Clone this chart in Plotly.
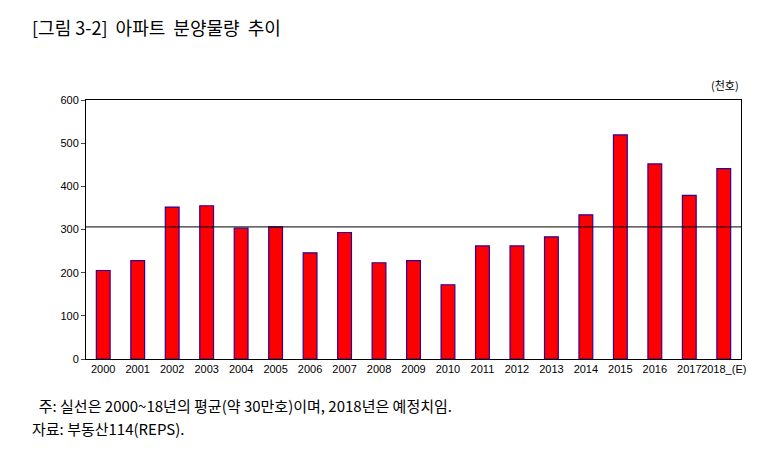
import plotly.graph_objects as go

years = ["2000", "2001", "2002", "2003", "2004", "2005", "2006", "2007", "2008", "2009",
         "2010", "2011", "2012", "2013", "2014", "2015", "2016", "2017", "2018_(E)"]
supply = [205, 228, 352, 355, 303, 306, 246, 293, 223, 228,
          172, 262, 262, 283, 334, 519, 452, 379, 441]
average = 306

fig = go.Figure()
fig.add_trace(go.Bar(
    x=years, y=supply, marker=dict(color="#ff0000", line=dict(color="#330099", width=1.2)),
    width=0.4,
))
fig.add_hline(y=average, line=dict(color="black", width=1))

fig.update_layout(
    width=768, height=451, plot_bgcolor="white", paper_bgcolor="white",
    margin=dict(l=78, r=35, t=92, b=100), showlegend=False,
    font=dict(family="Noto Sans CJK KR", size=12, color="black"),
)
fig.update_xaxes(showline=True, linecolor="black", mirror=True, ticks="", tickangle=0,
                 tickfont=dict(size=11, family="Liberation Sans"))
fig.update_yaxes(range=[0, 600], dtick=100, showline=True, linecolor="black", mirror=True,
                 ticks="outside", ticklen=4, showgrid=False,
                 tickfont=dict(size=11, family="Liberation Sans"))

fig.add_annotation(text="[그림 3-2]  아파트  분양물량  추이", xref="paper", yref="paper",
                   x=-0.085, y=1.28, xanchor="left", yanchor="middle", showarrow=False,
                   font=dict(size=18))
fig.add_annotation(text="(천호)", xref="paper", yref="paper", x=1.0, y=1.02,
                   xanchor="right", yanchor="bottom", showarrow=False, font=dict(size=11))
fig.add_annotation(text="  주: 실선은 2000~18년의 평균(약 30만호)이며, 2018년은 예정치임.",
                   xref="paper", yref="paper", x=-0.085, y=-0.18, xanchor="left", yanchor="middle",
                   showarrow=False, font=dict(size=15))
fig.add_annotation(text="자료: 부동산114(REPS).",
                   xref="paper", yref="paper", x=-0.085, y=-0.27, xanchor="left", yanchor="middle",
                   showarrow=False, font=dict(size=15))

fig.write_html("out.html")
